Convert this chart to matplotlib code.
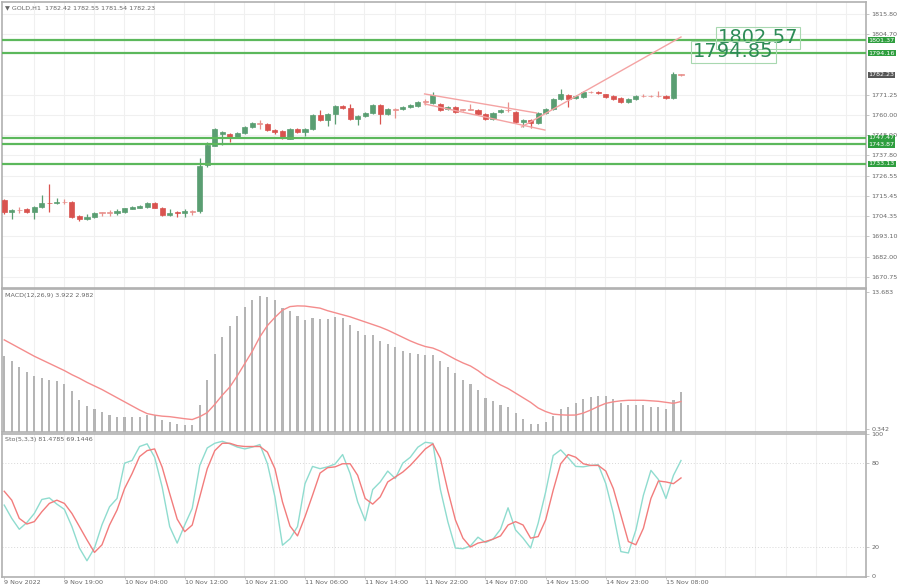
import numpy as np
import matplotlib
matplotlib.use('Agg')
import matplotlib.pyplot as plt
import matplotlib.transforms as mtransforms

# ---- data (GOLD H1) ----
opens = [1713.2, 1706.6, 1707.6, 1708.0, 1706.6, 1709.4, 1711.8, 1711.4, 1712.0, 1712.2,
         1704.4, 1702.8, 1704.0, 1706.3, 1706.0, 1706.2, 1706.6, 1708.4, 1709.0, 1709.2,
         1711.6, 1708.8, 1704.8, 1706.4, 1705.8, 1707.2, 1707.0, 1732.5, 1743.0, 1749.6,
         1749.6, 1748.0, 1750.2, 1753.5, 1755.4, 1755.1, 1751.6, 1751.3, 1746.9, 1752.4,
         1750.7, 1752.4, 1760.1, 1757.3, 1760.6, 1765.1, 1764.0, 1758.0, 1759.7, 1761.3,
         1765.7, 1760.6, 1763.4, 1763.4, 1764.5, 1765.1, 1767.3, 1766.7, 1766.2, 1763.4,
         1764.5, 1762.9, 1762.9, 1762.9, 1760.6, 1757.9, 1761.8, 1762.9, 1761.8, 1756.2,
         1757.3, 1755.7, 1761.2, 1763.4, 1769.0, 1771.1, 1769.5, 1770.0, 1772.6, 1772.6,
         1771.4, 1770.6, 1769.5, 1767.3, 1768.9, 1770.4, 1770.4, 1770.6, 1770.6, 1769.5,
         1782.42]
highs = [1714.0, 1708.3, 1709.2, 1708.6, 1710.0, 1716.0, 1722.0, 1714.2, 1713.8, 1712.6,
         1705.0, 1705.6, 1706.8, 1706.8, 1707.8, 1708.5, 1709.0, 1709.8, 1710.6, 1712.0,
         1712.0, 1709.2, 1708.0, 1707.4, 1708.0, 1707.6, 1736.4, 1745.0, 1753.0, 1751.5,
         1750.2, 1750.8, 1754.0, 1756.2, 1757.3, 1755.6, 1752.6, 1751.8, 1753.0, 1753.0,
         1753.0, 1760.6, 1762.9, 1761.2, 1765.6, 1765.8, 1766.2, 1760.2, 1761.8, 1766.2,
         1766.2, 1764.0, 1764.0, 1765.0, 1766.2, 1767.8, 1769.0, 1772.8, 1766.6, 1765.0,
         1765.0, 1763.6, 1766.2, 1763.4, 1761.2, 1761.8, 1763.4, 1767.0, 1762.3, 1757.9,
         1757.9, 1761.8, 1763.9, 1769.5, 1774.4, 1771.7, 1771.1, 1773.3, 1773.3, 1773.3,
         1771.8, 1771.1, 1769.8, 1769.5, 1771.1, 1771.4, 1771.1, 1773.3, 1771.1, 1783.8,
         1782.55]
lows = [1705.5, 1703.0, 1705.8, 1706.0, 1702.5, 1709.0, 1706.6, 1711.0, 1711.2, 1703.2,
        1701.4, 1702.3, 1703.5, 1704.2, 1704.6, 1705.0, 1706.2, 1708.0, 1708.6, 1708.8,
        1708.6, 1704.6, 1704.4, 1703.6, 1703.6, 1704.8, 1706.2, 1731.5, 1743.0, 1743.5,
        1745.0, 1747.4, 1749.6, 1753.0, 1752.6, 1751.3, 1749.8, 1746.9, 1746.6, 1750.2,
        1748.6, 1752.0, 1756.8, 1754.0, 1755.1, 1763.4, 1757.3, 1754.6, 1759.2, 1760.8,
        1755.1, 1760.0, 1758.4, 1762.8, 1764.0, 1764.6, 1765.6, 1766.2, 1762.4, 1762.8,
        1761.2, 1762.4, 1762.6, 1760.1, 1757.3, 1757.3, 1761.2, 1761.8, 1755.7, 1753.5,
        1752.9, 1755.1, 1760.6, 1762.9, 1768.4, 1764.5, 1769.0, 1769.5, 1772.0, 1771.4,
        1769.5, 1768.4, 1766.7, 1766.7, 1768.4, 1769.8, 1769.8, 1769.8, 1769.0, 1769.0,
        1781.54]
closes = [1706.6, 1707.5, 1707.8, 1706.8, 1709.4, 1711.6, 1711.3, 1712.3, 1712.2, 1703.8,
          1702.7, 1704.0, 1706.3, 1706.0, 1706.2, 1707.0, 1708.6, 1709.2, 1709.9, 1711.6,
          1709.0, 1705.0, 1706.3, 1705.8, 1707.0, 1706.8, 1732.0, 1743.5, 1752.4, 1750.6,
          1748.0, 1750.2, 1753.5, 1755.6, 1755.6, 1751.8, 1750.6, 1747.4, 1752.4, 1750.7,
          1752.4, 1760.1, 1757.3, 1760.6, 1765.1, 1764.0, 1758.0, 1759.7, 1761.3, 1765.7,
          1760.6, 1763.4, 1763.0, 1764.5, 1765.6, 1767.3, 1767.5, 1771.1, 1763.0, 1764.5,
          1761.8, 1763.1, 1763.0, 1760.6, 1757.9, 1761.2, 1762.9, 1762.6, 1756.2, 1757.3,
          1755.7, 1761.2, 1763.4, 1768.9, 1771.7, 1768.9, 1770.6, 1772.8, 1772.8, 1772.0,
          1770.0, 1768.9, 1767.3, 1769.0, 1770.6, 1770.6, 1770.6, 1770.4, 1769.5, 1782.7,
          1782.23]

macd_hist = [7.45, 6.90, 6.38, 5.83, 5.50, 5.28, 5.08, 4.95, 4.73, 3.98,
             3.17, 2.55, 2.26, 1.93, 1.68, 1.48, 1.48, 1.48, 1.48, 1.68,
             1.68, 1.22, 1.00, 0.80, 0.73, 0.66, 2.68, 5.11, 7.62, 9.27,
             10.40, 11.38, 12.22, 12.93, 13.29, 13.17, 12.87, 12.15, 11.83, 11.38,
             10.99, 11.18, 11.00, 11.00, 11.25, 11.10, 10.47, 9.88, 9.50, 9.45,
             8.91, 8.59, 8.26, 7.94, 7.71, 7.62, 7.56, 7.56, 6.90, 6.31,
             5.73, 5.11, 4.69, 4.11, 3.33, 3.00, 2.68, 2.42, 1.83, 1.32,
             0.80, 0.80, 1.00, 1.54, 2.22, 2.48, 2.84, 3.20, 3.46, 3.56,
             3.56, 3.26, 2.87, 2.68, 2.68, 2.61, 2.48, 2.42, 2.26, 3.10,
             3.922]
macd_signal = [9.0, 8.6, 8.2, 7.8, 7.4, 7.05, 6.7, 6.35, 6.0, 5.6,
               5.25, 4.85, 4.5, 4.15, 3.75, 3.35, 2.95, 2.55, 2.15, 1.8,
               1.65, 1.55, 1.5, 1.4, 1.3, 1.22, 1.5, 1.9, 2.7, 3.6,
               4.4, 5.5, 6.7, 7.9, 9.3, 10.4, 11.2, 11.9, 12.25, 12.32,
               12.3, 12.2, 12.1, 11.85, 11.65, 11.45, 11.25, 11.0, 10.75, 10.5,
               10.25, 9.95, 9.6, 9.25, 8.9, 8.6, 8.35, 8.2, 7.9, 7.5,
               7.1, 6.75, 6.45, 6.0, 5.45, 5.05, 4.6, 4.25, 3.8, 3.35,
               2.9, 2.35, 2.0, 1.75, 1.68, 1.65, 1.66, 1.85, 2.15, 2.5,
               2.8, 2.95, 3.05, 3.1, 3.1, 3.1, 3.05, 3.0, 2.9, 2.8,
               2.982]

sto_main = [49.9, 40.5, 32.8, 37.5, 44.0, 53.9, 55.0, 50.6, 46.9, 34.7,
            19.5, 10.5, 19.5, 36.0, 48.7, 54.6, 79.6, 81.5, 91.4, 93.3,
            83.8, 62.8, 34.7, 23.0, 35.8, 47.6, 78.0, 90.4, 93.7, 95.1,
            93.3, 91.0, 89.7, 91.0, 92.8, 79.2, 55.7, 21.5, 26.0, 34.7,
            65.1, 77.3, 75.7, 77.0, 79.0, 85.7, 72.2, 52.2, 38.9, 60.9,
            66.3, 74.0, 68.7, 79.6, 83.8, 90.9, 94.4, 93.7, 61.0, 38.0,
            19.5, 19.0, 21.0, 27.2, 23.4, 25.8, 32.8, 48.0, 32.3, 26.5,
            19.5, 37.0, 59.2, 85.0, 89.0, 83.4, 77.3, 77.0, 78.0, 78.5,
            65.1, 44.0, 17.0, 16.0, 32.3, 56.9, 74.5, 68.0, 54.6, 71.0,
            81.4785]
sto_signal = [59.7, 53.4, 40.5, 36.5, 38.2, 45.2, 51.1, 53.4, 51.1, 44.0,
              34.7, 25.3, 16.4, 21.8, 35.8, 46.4, 61.6, 72.2, 84.3, 88.5,
              89.7, 76.8, 58.1, 40.0, 31.1, 35.8, 55.7, 75.7, 88.5, 93.7,
              93.7, 92.0, 91.4, 91.4, 91.4, 87.4, 75.7, 52.2, 35.1, 28.1,
              41.7, 56.9, 72.6, 76.4, 77.0, 79.2, 79.2, 71.0, 54.6, 50.6,
              55.7, 66.3, 69.8, 73.3, 78.0, 83.8, 89.7, 93.3, 83.0, 60.0,
              39.4, 26.5, 20.2, 23.0, 24.1, 25.8, 28.1, 35.8, 38.2, 35.8,
              26.5, 27.6, 39.4, 60.4, 79.2, 85.7, 83.8, 79.2, 78.0, 78.0,
              74.0, 61.6, 42.9, 24.1, 21.8, 33.5, 54.6, 67.0, 66.3, 65.1,
              69.1446]

# support / resistance levels and drawn trendlines
levels = [1801.37, 1794.16, 1747.47, 1743.87, 1733.13]
big_labels = [('1802.57', 100.2), ('1794.85', 97.0)]
channel_upper = ([55.9, 70.8], [1771.7, 1761.2])
channel_lower = ([55.9, 71.9], [1766.2, 1751.8])
breakout_line = ([68.8, 90.0], [1753.5, 1803.1])

price_ticks = [1815.80, 1804.70, 1771.25, 1760.00, 1748.90, 1737.80, 1726.55,
               1715.45, 1704.35, 1693.10, 1682.00, 1670.75]
time_labels = ['9 Nov 2022', '9 Nov 19:00', '10 Nov 04:00', '10 Nov 12:00', '10 Nov 21:00',
               '11 Nov 06:00', '11 Nov 14:00', '11 Nov 22:00', '14 Nov 07:00',
               '14 Nov 15:00', '14 Nov 23:00', '15 Nov 08:00']

UP = '#5a9e72'
DN = '#d9534f'
DOJI = '#e8908c'
LVL = '#5cb85c'
GRID = '#f0f0f0'
TXT = '#666666'
FRAME = '#b0b0b0'
FS = 4.6

n = len(closes)
x = np.arange(n)
XL = (-0.3, 114.6)

fig = plt.figure(figsize=(9, 5.85), dpi=100, facecolor='w')
ax1 = fig.add_axes([0.0022, 0.5077, 0.96, 0.4889])
ax2 = fig.add_axes([0.0022, 0.2615, 0.96, 0.2445])
ax3 = fig.add_axes([0.0022, 0.0137, 0.96, 0.2450])

for ax in (ax1, ax2, ax3):
    ax.set_xlim(*XL)
    for s in ax.spines.values():
        s.set_color(FRAME)
        s.set_linewidth(1.2)
    for g in range(4, 116, 4):
        ax.axvline(g - 0.1, color=GRID, lw=0.8, zorder=0)
    ax.yaxis.tick_right()
    ax.tick_params(axis='y', right=True, left=False, length=2, width=0.5,
                   colors=FRAME, labelcolor=TXT, labelsize=FS, pad=2)
    ax.tick_params(axis='x', bottom=False, labelbottom=False)

# ---- price panel ----
ax1.set_ylim(1664.7, 1822.4)
for t in price_ticks:
    ax1.axhline(t, color=GRID, lw=0.8, zorder=0)
ax1.set_yticks(price_ticks)
ax1.set_yticklabels(['%.2f' % t for t in price_ticks])

for i in range(n):
    o, h, l, c = opens[i], highs[i], lows[i], closes[i]
    if abs(c - o) < 0.45:
        col = DOJI
    elif c >= o:
        col = UP
    else:
        col = DN
    ax1.vlines(x[i], l, h, color=col, lw=0.9, zorder=2)
    lo = min(o, c)
    hgt = max(abs(c - o), 0.35)
    ax1.bar(x[i], hgt, 0.68, bottom=lo, color=col, edgecolor=col, lw=0.5, zorder=3)

for lv in levels:
    ax1.axhline(lv, color=LVL, lw=1.6, zorder=4)

for xs, ys in (channel_upper, channel_lower, breakout_line):
    ax1.plot(xs, ys, color='#f4a3a3', lw=1.0, zorder=4)

for txt, xi in big_labels:
    ax1.text(xi, float(txt), txt, fontsize=14, color='#2e8b57', ha='center', va='center',
             zorder=6, bbox=dict(boxstyle='square,pad=0.1', fc='none', ec='#a8d8b0', lw=0.8))

trans1 = mtransforms.blended_transform_factory(ax1.transAxes, ax1.transData)
for lv in levels:
    ax1.text(1.003, lv, '%.2f' % lv, transform=trans1, fontsize=FS, color='white',
             va='center', ha='left', clip_on=False,
             bbox=dict(boxstyle='square,pad=0.12', fc='#2e9e3e', ec='none'))
ax1.text(1.003, closes[-1], '%.2f' % closes[-1], transform=trans1, fontsize=FS, color='white',
         va='center', ha='left', clip_on=False,
         bbox=dict(boxstyle='square,pad=0.12', fc='#555555', ec='none'))

ax1.text(0.004, 0.988, '\u25bc GOLD,H1  %.2f %.2f %.2f %.2f' % (opens[-1], highs[-1], lows[-1], closes[-1]),
         transform=ax1.transAxes, fontsize=FS, color=TXT, va='top', ha='left')

# ---- MACD panel ----
ax2.set_ylim(0.0, 13.97)
ax2.bar(x, macd_hist, 0.28, color='#b5b5b5', zorder=2)
ax2.plot(x, macd_signal, color='#f48c8c', lw=1.0, zorder=3)
ax2.set_yticks([13.683, 0.342])
ax2.set_yticklabels(['13.683', '0.342'])
ax2.text(0.004, 0.975, 'MACD(12,26,9) %.3f %.3f' % (macd_hist[-1], macd_signal[-1]),
         transform=ax2.transAxes, fontsize=FS, color=TXT, va='top', ha='left')

# ---- Stochastic panel ----
ax3.set_ylim(-1.0, 100.5)
for lv in (80, 20):
    ax3.axhline(lv, color='#d8d8d8', lw=0.7, ls=(0, (1, 2)), zorder=1)
ax3.plot(x, sto_main, color='#8fdccf', lw=1.0, zorder=3)
ax3.plot(x, sto_signal, color='#f27c7c', lw=1.0, zorder=3)
ax3.set_yticks([100, 80, 20, 0])
ax3.set_yticklabels(['100', '80', '20', '0'])
ax3.text(0.004, 0.975, 'Sto(5,3,3) %.4f %.4f' % (sto_main[-1], sto_signal[-1]),
         transform=ax3.transAxes, fontsize=FS, color=TXT, va='top', ha='left')

ax3.tick_params(axis='x', bottom=True, labelbottom=True, length=1.5, width=0.5,
                colors=FRAME, labelcolor=TXT, labelsize=FS, pad=0.5)
ax3.set_xticks(np.arange(0, 8 * len(time_labels), 8))
ax3.set_xticklabels(time_labels, ha='left')

fig.savefig('out.png', dpi=100, facecolor='w')
